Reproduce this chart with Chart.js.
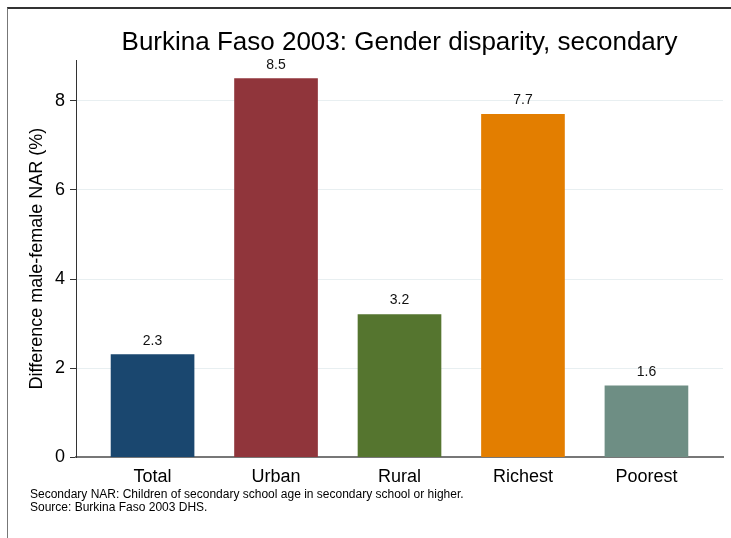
<!DOCTYPE html>
<html>
<head>
<meta charset="utf-8">
<script src="https://cdn.jsdelivr.net/npm/chart.js@4.4.0/dist/chart.umd.min.js"></script>
<style>
  body { margin: 0; background: #fff; }
  #wrap { position: relative; width: 731px; height: 538px; overflow: hidden; }
  #frame { position: absolute; left: 7px; top: 7px; width: 740px; height: 560px;
           border-top: 2px solid #333; border-left: 1px solid #777; }
  canvas { position: absolute; left: 0; top: 0; }
</style>
</head>
<body>
<div id="wrap">
  <div id="frame"></div>
  <canvas id="chart" width="731" height="538"></canvas>
</div>
<script>
const categories = ['Total', 'Urban', 'Rural', 'Richest', 'Poorest'];
const values = [2.3, 8.5, 3.2, 7.7, 1.6];
const barColors = ['#1a476f', '#90353b', '#55752f', '#e37e00', '#6e8e84'];
const yTicks = [0, 2, 4, 6, 8];
const titleText = 'Burkina Faso 2003: Gender disparity, secondary';
const yTitle = 'Difference male-female NAR (%)';
const notes = [
    'Secondary NAR: Children of secondary school age in secondary school or higher.',
    'Source: Burkina Faso 2003 DHS.'
];

let points = values.map((v, i) => ({ x: i, y: v }));

// value labels on top of each bar
let barLabels = {
    id: 'barLabels',
    afterDatasetsDraw(chart) {
        let ctx = chart.ctx;
        let meta = chart.getDatasetMeta(0);
        ctx.save();
        ctx.font = '14px "Liberation Sans", Arial, sans-serif';
        ctx.fillStyle = '#111';
        ctx.textAlign = 'center';
        ctx.textBaseline = 'middle';
        meta.data.forEach((bar, i) => {
            ctx.fillText(values[i].toFixed(1), bar.x, bar.y - 14);
        });
        ctx.restore();
    }
};

let configAxisX = {
    type: 'linear',
    min: -0.62,
    max: 4.62,
    offset: false,
    afterBuildTicks: function(scale) {
        scale.ticks = categories.map((c, i) => ({ value: i }));
    },
    afterFit: function(scale) {
        scale.height = 28;
    },
    ticks: {
        autoSkip: false,
        maxRotation: 0,
        padding: 9,
        color: '#000',
        font: { size: 18, family: '"Liberation Sans", Arial, sans-serif' },
        callback: function(value) {
            return categories[value];
        }
    },
    grid: { display: false, drawTicks: false, offset: false },
    border: { display: true, color: '#777', width: 2 }
};

let configAxisY = {
    type: 'linear',
    min: 0,
    max: 8.92,
    afterBuildTicks: function(scale) {
        scale.ticks = yTicks.map(v => ({ value: v }));
    },
    afterFit: function(scale) {
        scale.width = 46;
    },
    ticks: {
        padding: 5,
        color: '#000',
        font: { size: 18, family: '"Liberation Sans", Arial, sans-serif' }
    },
    grid: {
        color: function(c) { return c.tick && c.tick.value === 0 ? 'rgba(0,0,0,0)' : '#e8eff1'; },
        tickColor: '#333',
        tickLength: 6,
        lineWidth: 1
    },
    border: { display: true, color: '#333', width: 1 },
    title: {
        display: true,
        text: yTitle,
        color: '#000',
        padding: { top: -4, bottom: 0 },
        font: { size: 18, family: '"Liberation Sans", Arial, sans-serif' }
    }
};

new Chart(document.getElementById('chart'), {
    type: 'bar',
    data: {
        datasets: [{
            data: points,
            backgroundColor: barColors,
            borderWidth: 0,
            barThickness: 83
        }]
    },
    options: {
        responsive: false,
        animation: false,
        layout: { padding: { left: 30, right: 8, top: 0, bottom: 24 } },
        scales: {
            x: configAxisX,
            y: configAxisY
        },
        plugins: {
            legend: { display: false },
            tooltip: { enabled: false },
            title: {
                display: true,
                text: titleText,
                fullSize: false,
                color: '#000',
                font: { size: 26, weight: 'normal', family: '"Liberation Sans", Arial, sans-serif' },
                padding: { top: 27.4, bottom: 1.4 }
            },
            subtitle: {
                display: true,
                text: notes,
                position: 'bottom',
                align: 'start',
                color: '#000',
                font: { size: 12, lineHeight: 1.08, family: '"Liberation Sans", Arial, sans-serif' },
                padding: { top: 3, bottom: 0 }
            }
        }
    },
    plugins: [barLabels]
});
</script>
</body>
</html>
